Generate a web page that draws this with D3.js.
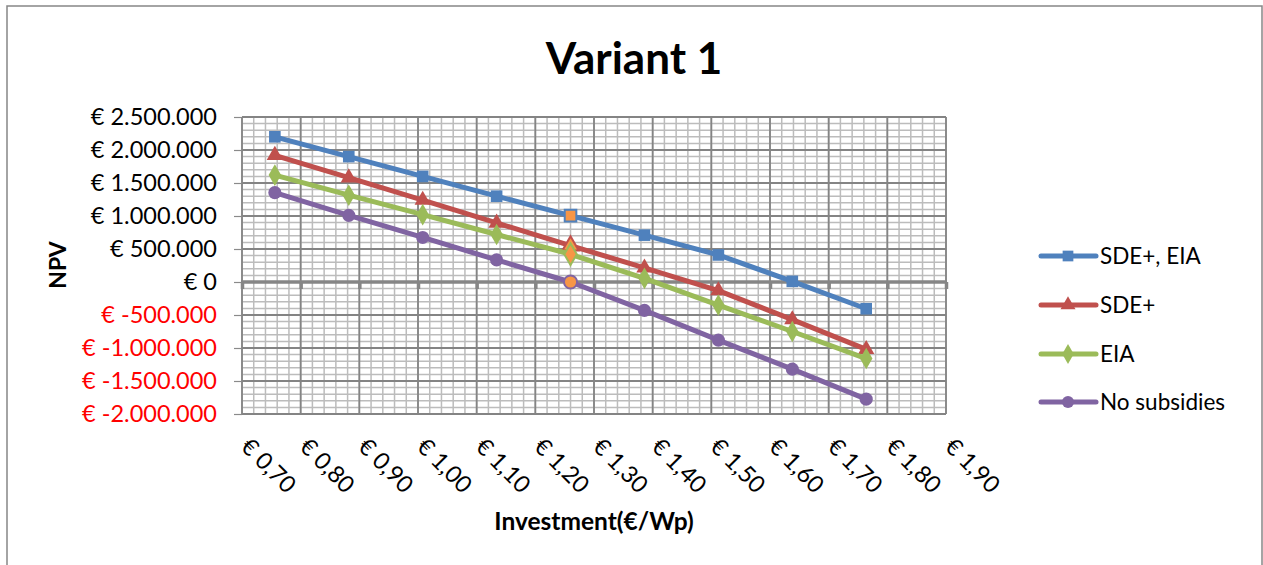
<!DOCTYPE html>
<html>
<head>
    <meta charset="utf-8">
    <title>Variant 1</title>
    <script src="https://cdn.jsdelivr.net/npm/d3@7/dist/d3.min.js"></script>
    <style>
        body { margin: 0; background: #fff; }
        text { font-family: Lato, "Open Sans", sans-serif; fill: #000; }
    </style>
</head>
<body>
<script>
    // data
    var investment = [0.756, 0.882, 1.008, 1.134, 1.26, 1.386, 1.512, 1.638, 1.764];
    var sdeEia     = [2200000, 1900000, 1600000, 1300000, 1005000, 710000, 410000, 10000, -405000];
    var sde        = [1920000, 1580000, 1240000, 895000, 550000, 215000, -130000, -570000, -1020000];
    var eia        = [1620000, 1315000, 1020000, 720000, 420000, 55000, -350000, -750000, -1160000];
    var noSubsidy  = [1355000, 1010000, 675000, 335000, 0, -430000, -880000, -1320000, -1775000];
    var seriesNames = ['SDE+, EIA', 'SDE+', 'EIA', 'No subsidies'];
    var xTicks = [0.70, 0.80, 0.90, 1.00, 1.10, 1.20, 1.30, 1.40, 1.50, 1.60, 1.70, 1.80, 1.90];
    var yTicks = [2500000, 2000000, 1500000, 1000000, 500000, 0, -500000, -1000000, -1500000, -2000000];
    var highlightIndex = 4;

    var W = 1263, H = 565;
    var plotLeft = 242, plotRight = 946, plotTop = 117, plotBottom = 414;

    var series = [
        { name: seriesNames[0], values: sdeEia,    color: '#4F81BD', symbol: d3.symbolSquare,   size: 135 },
        { name: seriesNames[1], values: sde,       color: '#C0504D', symbol: d3.symbolTriangle, size: 115 },
        { name: seriesNames[2], values: eia,       color: '#9BBB59', symbol: d3.symbolDiamond,  size: 135 },
        { name: seriesNames[3], values: noSubsidy, color: '#8064A2', symbol: d3.symbolCircle,   size: 135 }
    ];

    var svg = d3.select('body').append('svg')
        .attr('width', W)
        .attr('height', H);

    // chart border
    svg.append('rect')
        .attr('x', 7).attr('y', 6)
        .attr('width', 1255).attr('height', 600)
        .style('fill', 'none')
        .style('stroke', '#868686')
        .style('stroke-width', 1.5);

    var x = d3.scaleLinear().domain([0.7, 1.9]).range([plotLeft, plotRight]);
    var y = d3.scaleLinear().domain([-2000000, 2500000]).range([plotBottom, plotTop]);

    var grid = svg.append('g');

    // minor grid
    grid.selectAll('line.vminor')
        .data(x.ticks(60)).enter()
        .append('line')
        .attr('x1', function(d) { return x(d); })
        .attr('x2', function(d) { return x(d); })
        .attr('y1', plotTop).attr('y2', plotBottom)
        .style('stroke', '#bcbcbc')
        .style('stroke-width', 1.5);

    grid.selectAll('line.hminor')
        .data(y.ticks(45)).enter()
        .append('line')
        .attr('y1', function(d) { return y(d); })
        .attr('y2', function(d) { return y(d); })
        .attr('x1', plotLeft).attr('x2', plotRight)
        .style('stroke', '#bcbcbc')
        .style('stroke-width', 1.5);

    // major grid
    grid.selectAll('line.vmajor')
        .data(xTicks).enter()
        .append('line')
        .attr('x1', function(d) { return x(d); })
        .attr('x2', function(d) { return x(d); })
        .attr('y1', plotTop).attr('y2', plotBottom)
        .style('stroke', '#848484')
        .style('stroke-width', 1.8);

    grid.selectAll('line.hmajor')
        .data(yTicks).enter()
        .append('line')
        .attr('y1', function(d) { return y(d); })
        .attr('y2', function(d) { return y(d); })
        .attr('x1', plotLeft).attr('x2', plotRight)
        .style('stroke', '#848484')
        .style('stroke-width', 1.8);

    // y axis
    var locale = d3.formatLocale({ decimal: ',', thousands: '.', grouping: [3], currency: ['€ ', ''], minus: '-' });
    var yFmt = locale.format(',.0f');
    var yAxis = svg.append('g')
        .attr('transform', 'translate(' + plotLeft + ',0)')
        .call(d3.axisLeft(y).tickValues(yTicks).tickSize(8).tickPadding(17)
            .tickFormat(function(d) { return '€ ' + yFmt(d); }));
    yAxis.select('.domain').remove();
    yAxis.selectAll('.tick line').style('stroke', '#8a8a8a').style('stroke-width', 1.2);
    yAxis.selectAll('.tick text')
        .style('font-size', '23.5px')
        .style('fill', function(d) { return d < 0 ? '#FF0000' : '#000'; });

    // zero axis with ticks
    var zeroAxis = svg.append('g')
        .attr('transform', 'translate(0,' + y(0) + ')')
        .call(d3.axisBottom(x).tickValues(xTicks).tickSize(7).tickFormat(''));
    zeroAxis.select('.domain')
        .attr('d', 'M' + (plotLeft - 1) + ',0H' + (plotRight + 1))
        .style('stroke', '#868686')
        .style('stroke-width', 3.5);
    zeroAxis.selectAll('.tick line').style('stroke', '#868686').style('stroke-width', 3.5);

    // x labels at bottom, rotated
    var xFmt = locale.format('.2f');
    var xAxis = svg.append('g')
        .attr('transform', 'translate(0,' + plotBottom + ')')
        .call(d3.axisBottom(x).tickValues(xTicks).tickSize(0)
            .tickFormat(function(d) { return '€ ' + xFmt(d); }));
    xAxis.select('.domain').remove();
    xAxis.selectAll('.tick text')
        .style('font-size', '23.5px')
        .attr('text-anchor', 'start')
        .attr('y', 0).attr('dy', 0)
        .attr('transform', 'translate(-3,34) rotate(45)');

    // series lines
    var line = d3.line()
        .x(function(d, i) { return x(investment[i]); })
        .y(function(d) { return y(d); });

    var plot = svg.append('g');
    series.forEach(function(s) {
        plot.append('path')
            .datum(s.values)
            .attr('d', line)
            .style('fill', 'none')
            .style('stroke', s.color)
            .style('stroke-width', 5)
            .style('stroke-linejoin', 'round');

        plot.selectAll(null)
            .data(s.values).enter()
            .append('path')
            .attr('d', d3.symbol().type(s.symbol).size(s.size))
            .attr('transform', function(d, i) { return 'translate(' + x(investment[i]) + ',' + y(d) + ')'; })
            .style('fill', function(d, i) { return i === highlightIndex ? '#F79646' : s.color; })
            .style('stroke', s.color)
            .style('stroke-width', function(d, i) { return i === highlightIndex ? 2 : 0; });
    });

    // axis titles
    svg.append('text')
        .attr('x', 634).attr('y', 74)
        .attr('text-anchor', 'middle')
        .style('font-size', '44px')
        .style('font-weight', 'bold')
        .text('Variant 1');

    svg.append('text')
        .attr('transform', 'translate(66,265) rotate(-90)')
        .attr('text-anchor', 'middle')
        .style('font-size', '23px')
        .style('font-weight', 'bold')
        .text('NPV');

    svg.append('text')
        .attr('x', 594).attr('y', 530)
        .attr('text-anchor', 'middle')
        .style('font-size', '24.5px')
        .style('font-weight', 'bold')
        .text('Investment(€/Wp)');

    // legend
    var legend = svg.append('g').attr('transform', 'translate(1041,256)');
    var item = legend.selectAll('g')
        .data(series).enter()
        .append('g')
        .attr('transform', function(d, i) { return 'translate(0,' + [0, 49, 98, 146][i] + ')'; });
    item.append('line')
        .attr('x1', 0).attr('x2', 55)
        .style('stroke', function(d) { return d.color; })
        .style('stroke-width', 5)
        .style('stroke-linecap', 'round');
    item.append('path')
        .attr('transform', 'translate(27,0)')
        .attr('d', function(d) { return d3.symbol().type(d.symbol).size(d.size * 0.85)(); })
        .style('fill', function(d) { return d.color; });
    item.append('text')
        .attr('x', 59).attr('y', 8)
        .style('font-size', '22.5px')
        .text(function(d) { return d.name; });
</script>
</body>
</html>
